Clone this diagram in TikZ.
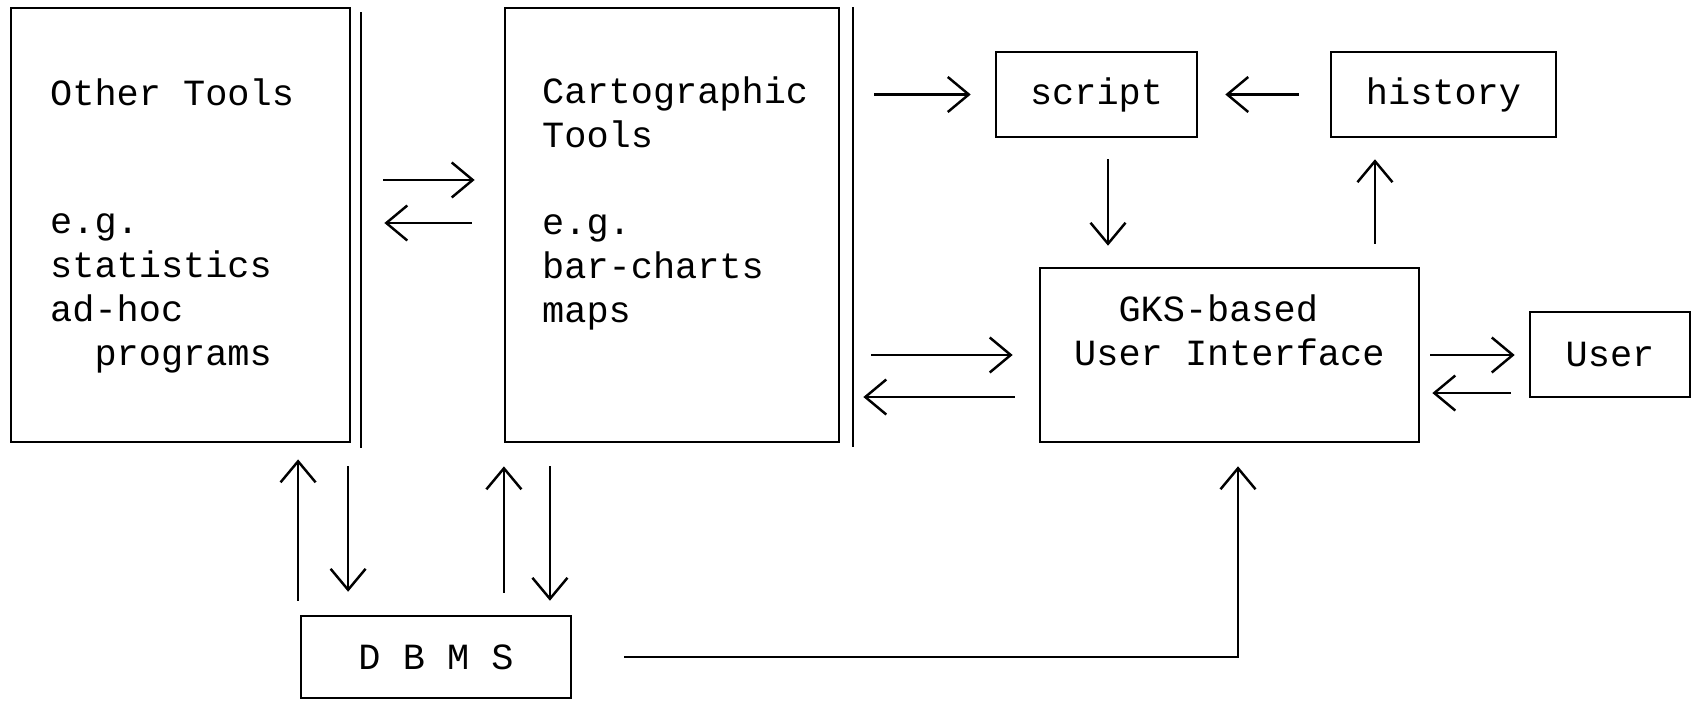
\documentclass[tikz,border=0pt]{standalone}
\usepackage{fontspec}
\setmonofont{Liberation Mono}
\usetikzlibrary{positioning, arrows.meta, calc}

\begin{document}
\begin{tikzpicture}[
    x=0.01cm, y=-0.01cm,
    >={Straight Barb[length=0.21cm, width=0.35cm]},
    line width=0.7pt,
    box/.style={draw, rectangle, inner sep=0pt, font=\ttfamily\fontsize{10.5}{12.5}\selectfont},
    txt/.style={inner sep=0pt, align=left, font=\ttfamily\fontsize{10.5}{12.5}\selectfont},
    arr/.style={->}
]

% fixed frame, same size as the scan
\useasboundingbox (0,0) rectangle (1691,700);

% Tool blocks (text nodes sit on the baseline of their last line)
\node[box, minimum width=3.39cm, minimum height=4.34cm] (other_box) at (180.5,225) {};
\node[box, minimum width=3.34cm, minimum height=4.34cm] (carto_box) at (672,225) {};
\draw (361,12) -- (361,448);
\draw (853,7) -- (853,447);

\node[txt, anchor=base west] (other_title) at (49,105) {Other Tools};
\node[txt, anchor=base west] (other_eg) at (49,365) {e.g.\\statistics\\ad-hoc\\\phantom{xx}programs};
\node[txt, anchor=base west] (carto_title) at (541,147) {Cartographic\\Tools};
\node[txt, anchor=base west] (carto_eg) at (541,322) {e.g.\\bar-charts\\maps};

% Interface side
\node[box, minimum width=2.01cm, minimum height=0.85cm] (script_box) at (1096.5,94.5) {script};
\node[box, minimum width=2.25cm, minimum height=0.85cm] (hist_box) at (1443.5,94.5) {history};
\node[box, minimum width=3.79cm, minimum height=1.74cm] (gks_box) at (1229.5,355) {};
\node[txt, anchor=base west] (gks_txt) at (1073,365) {\phantom{xx}GKS-based\\User Interface};
\node[box, minimum width=1.60cm, minimum height=0.85cm] (user_box) at (1610,354.5) {User};

% Data base
\node[box, minimum width=2.70cm, minimum height=0.82cm] (dbms_box) at (436,657) {D B M S};

% between the tools
\draw[arr, shorten <=0.32cm, shorten >=0.29cm] ([yshift=0.45cm]other_box.east) -- ([yshift=0.45cm]carto_box.west);
\draw[arr, shorten <=0.32cm, shorten >=0.33cm] ([yshift=0.02cm]carto_box.west) -- ([yshift=0.02cm]other_box.east);

% script / history loop
\draw[arr, shorten <=0.34cm, shorten >=0.24cm] (carto_box.east |- script_box.west) -- (script_box.west);
\draw[arr, shorten <=0.31cm, shorten >=0.27cm] (hist_box.west) -- (script_box.east);
\draw[arr, shorten <=0.21cm, shorten >=0.21cm] ([xshift=0.115cm]script_box.south) -- ([xshift=0.115cm]script_box.south |- gks_box.north);
\draw[arr, shorten <=0.23cm, shorten >=0.21cm] ([xshift=-0.685cm]hist_box.south |- gks_box.north) -- ([xshift=-0.685cm]hist_box.south);

% tools <-> interface <-> user
\draw[arr, shorten <=0.31cm, shorten >=0.26cm] (carto_box.east |- gks_box.west) -- (gks_box.west);
\draw[arr, shorten <=0.24cm, shorten >=0.23cm] ([yshift=-0.42cm]gks_box.west) -- ([yshift=-0.42cm]gks_box.west -| carto_box.east);
\draw[arr, shorten <=0.10cm, shorten >=0.14cm] (gks_box.east) -- (user_box.west |- gks_box.east);
\draw[arr, shorten <=0.18cm, shorten >=0.12cm] ([yshift=-0.385cm]user_box.west) -- ([yshift=-0.385cm]user_box.west -| gks_box.east);

% data base links
\draw[arr, shorten <=0.14cm, shorten >=0.16cm] ([xshift=1.175cm]other_box.south |- dbms_box.north) -- ([xshift=1.175cm]other_box.south);
\draw[arr, shorten <=0.23cm, shorten >=0.23cm] ([xshift=1.675cm]other_box.south) -- ([xshift=1.675cm]other_box.south |- dbms_box.north);
\draw[arr, shorten <=0.22cm, shorten >=0.23cm] ([xshift=-1.68cm]carto_box.south |- dbms_box.north) -- ([xshift=-1.68cm]carto_box.south);
\draw[arr, shorten <=0.23cm, shorten >=0.14cm] ([xshift=-1.22cm]carto_box.south) -- ([xshift=-1.22cm]carto_box.south |- dbms_box.north);
\draw[arr, shorten <=0.52cm, shorten >=0.23cm] (dbms_box.east) -| ([xshift=0.085cm]gks_box.south);

\end{tikzpicture}
\end{document}
